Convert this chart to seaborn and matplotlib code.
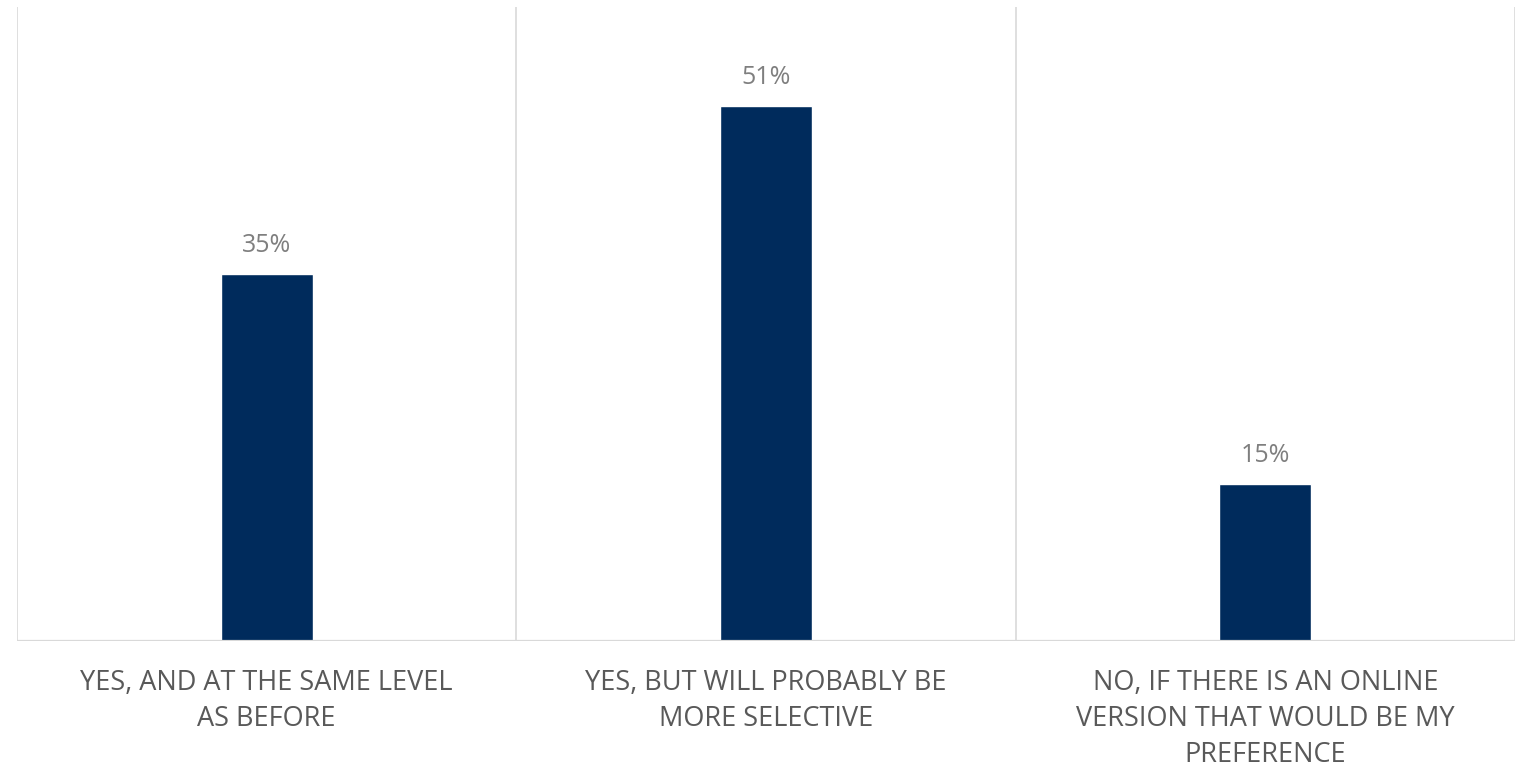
import matplotlib
matplotlib.use("Agg")
import matplotlib.pyplot as plt
import seaborn as sns
import pandas as pd

categories = [
    "YES, AND AT THE SAME LEVEL\nAS BEFORE",
    "YES, BUT WILL PROBABLY BE\nMORE SELECTIVE",
    "NO, IF THERE IS AN ONLINE\nVERSION THAT WOULD BE MY\nPREFERENCE",
]
values = [35, 51, 15]
value_labels = ["35%", "51%", "15%"]

sns.set_theme(style="white")
plt.rcParams["font.family"] = ["Open Sans", "DejaVu Sans"]

df = pd.DataFrame({"cat": categories, "val": values})

fig = plt.figure(figsize=(15.25, 7.73), dpi=100)
ax = fig.add_axes([17 / 1525, (773 - 641) / 773, (1515 - 17) / 1525, (641 - 7) / 773])

sns.barplot(data=df, x="cat", y="val", color="#002B5C", width=0.184,
            saturation=1, ax=ax)

ax.set_xlim(-0.5, 2.5)
ax.set_ylim(0, 60.4)

for b in [-0.5, 0.5, 1.5, 2.5]:
    ax.axvline(b, color="#D9D9D9", lw=1.2, zorder=0)
ax.axhline(0, color="#D9D9D9", lw=1.6, zorder=3)

for i, (v, lab) in enumerate(zip(values, value_labels)):
    ax.annotate(lab, (i, v), xytext=(0, 11), textcoords="offset points",
                ha="center", va="bottom", fontsize=18, color="#7F7F7F")

for s in ax.spines.values():
    s.set_visible(False)
ax.set_yticks([])
ax.set_xlabel("")
ax.set_ylabel("")
ax.tick_params(axis="x", length=0, pad=20)
for t in ax.get_xticklabels():
    t.set_fontsize(19.5)
    t.set_color("#595959")
    t.set_multialignment("center")
    t.set_linespacing(1.38)

fig.savefig("out.png", dpi=100)
